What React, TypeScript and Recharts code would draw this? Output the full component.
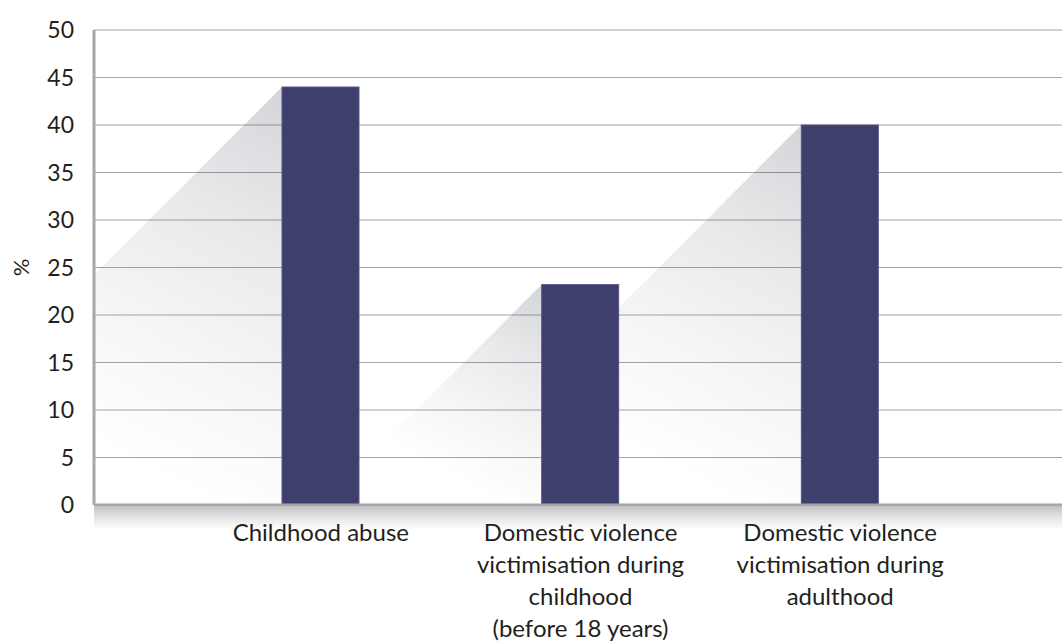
import React from 'react';
import { BarChart, Bar, XAxis, YAxis, CartesianGrid, ReferenceArea } from 'recharts';

const categories = [
  'Childhood abuse',
  'Domestic violence victimisation during childhood (before 18 years)',
  'Domestic violence victimisation during adulthood',
];
const categoryLines = [
  ['Childhood abuse'],
  ['Domestic violence', 'victimisation during', 'childhood', '(before 18 years)'],
  ['Domestic violence', 'victimisation during', 'adulthood'],
];
const values = [44, 23.2, 40];
const yTicks = [0, 5, 10, 15, 20, 25, 30, 35, 40, 45, 50];
const yLabel = '%';

const data = categories.map((name, i) => ({ name, value: values[i], lines: categoryLines[i] }));

const BAR_COLOR = '#3f3f6e';
const GRID_COLOR = '#a6a6a8';
const TEXT_COLOR = '#231f20';
const FONT = 'Lato, "Noto Sans", sans-serif';
const SHADOW_COLOR = '#1c2233';

const ShadowShape = (props: any) => {
  const { x, y, height, index } = props;
  if (!height || height <= 0) return null;
  const bottom = y + height;
  const pts = `${x},${y} ${x - height},${bottom} ${x},${bottom}`;
  const id = `barShadowGrad-${index}`;
  return (
    <g clipPath="url(#plotAreaClip)">
      <defs>
        <linearGradient
          id={id}
          gradientUnits="userSpaceOnUse"
          x1={x}
          y1={y}
          x2={x - height * 0.45}
          y2={y + height * 0.85}
        >
          <stop offset="0" stopColor={SHADOW_COLOR} stopOpacity={0.19} />
          <stop offset="0.35" stopColor={SHADOW_COLOR} stopOpacity={0.1} />
          <stop offset="0.7" stopColor={SHADOW_COLOR} stopOpacity={0.04} />
          <stop offset="1" stopColor={SHADOW_COLOR} stopOpacity={0} />
        </linearGradient>
      </defs>
      <polygon points={pts} fill={`url(#${id})`} />
    </g>
  );
};

const BarShape = (props: any) => {
  const { x, y, width, height } = props;
  if (!height || height <= 0) return null;
  return (
    <rect x={x} y={y} width={width} height={height} fill={BAR_COLOR} stroke="#57578a" strokeWidth={1} />
  );
};

const ClipShape = (props: any) => {
  const { x, y, width, height } = props;
  return (
    <defs>
      <clipPath id="plotAreaClip">
        <rect x={x} y={y} width={width} height={height} />
      </clipPath>
    </defs>
  );
};

const CategoryTick = (props: any) => {
  const { x, y, index } = props;
  const lines: string[] = data[index] ? data[index].lines : [];
  return (
    <text x={x} y={y} textAnchor="middle" fill={TEXT_COLOR} fontSize={24} fontFamily={FONT}>
      {lines.map((l, i) => (
        <tspan key={i} x={x} y={y + 36 + i * 32}>
          {l}
        </tspan>
      ))}
    </text>
  );
};

const YLabel = (props: any) => {
  const vb = props.viewBox || { x: 0, y: 0, width: 0, height: 0 };
  const cx = vb.x + 20;
  const cy = vb.y + vb.height / 2;
  return (
    <text
      x={cx}
      y={cy}
      textAnchor="middle"
      dominantBaseline="central"
      fill={TEXT_COLOR}
      fontSize={22}
      fontFamily={FONT}
      transform={`rotate(-90 ${cx} ${cy})`}
    >
      {yLabel}
    </text>
  );
};

export default function App() {
  return (
    <div style={{ position: 'absolute', left: 0, top: 0, width: 1062, height: 642, background: '#fff', fontFamily: FONT }}>
      <BarChart width={1062} height={642} data={data} margin={{ top: 30, right: 0, bottom: 0, left: 0 }}>
        <defs>
          <linearGradient id="axisBandGrad" x1="0" y1="0" x2="0" y2="1">
            <stop offset="0" stopColor="#c4c4c6" stopOpacity={1} />
            <stop offset="0.5" stopColor="#e6e6e7" stopOpacity={1} />
            <stop offset="1" stopColor="#ffffff" stopOpacity={1} />
          </linearGradient>
        </defs>
        <CartesianGrid vertical={false} stroke={GRID_COLOR} strokeWidth={1.2} />
        <XAxis
          dataKey="name"
          height={137}
          padding={{ left: 97, right: 92 }}
          tickLine={false}
          tickSize={0}
          tickMargin={0}
          axisLine={{ stroke: GRID_COLOR, strokeWidth: 3 }}
          tick={<CategoryTick />}
          interval={0}
        />
        <XAxis xAxisId="shadow" dataKey="name" hide padding={{ left: 97, right: 92 }} />
        <XAxis xAxisId="full" dataKey="name" hide />
        <YAxis
          width={94}
          domain={[0, 50]}
          ticks={yTicks}
          interval={0}
          tickLine={false}
          tickSize={0}
          tickMargin={20}
          axisLine={{ stroke: GRID_COLOR, strokeWidth: 3 }}
          tick={{ fill: TEXT_COLOR, fontSize: 23, fontFamily: FONT }}
          label={{ content: <YLabel /> }}
        />
        <ReferenceArea xAxisId="full" y1={0} y2={50} ifOverflow="visible" shape={<ClipShape />} />
        <ReferenceArea
          xAxisId="full"
          y1={-2.6}
          y2={-0.15}
          ifOverflow="visible"
          fill="url(#axisBandGrad)"
          fillOpacity={1}
          stroke="none"
        />
        <Bar xAxisId="shadow" dataKey="value" barSize={77} shape={<ShadowShape />} isAnimationActive={false} />
        <Bar dataKey="value" barSize={77} shape={<BarShape />} isAnimationActive={false} />
      </BarChart>
    </div>
  );
}
